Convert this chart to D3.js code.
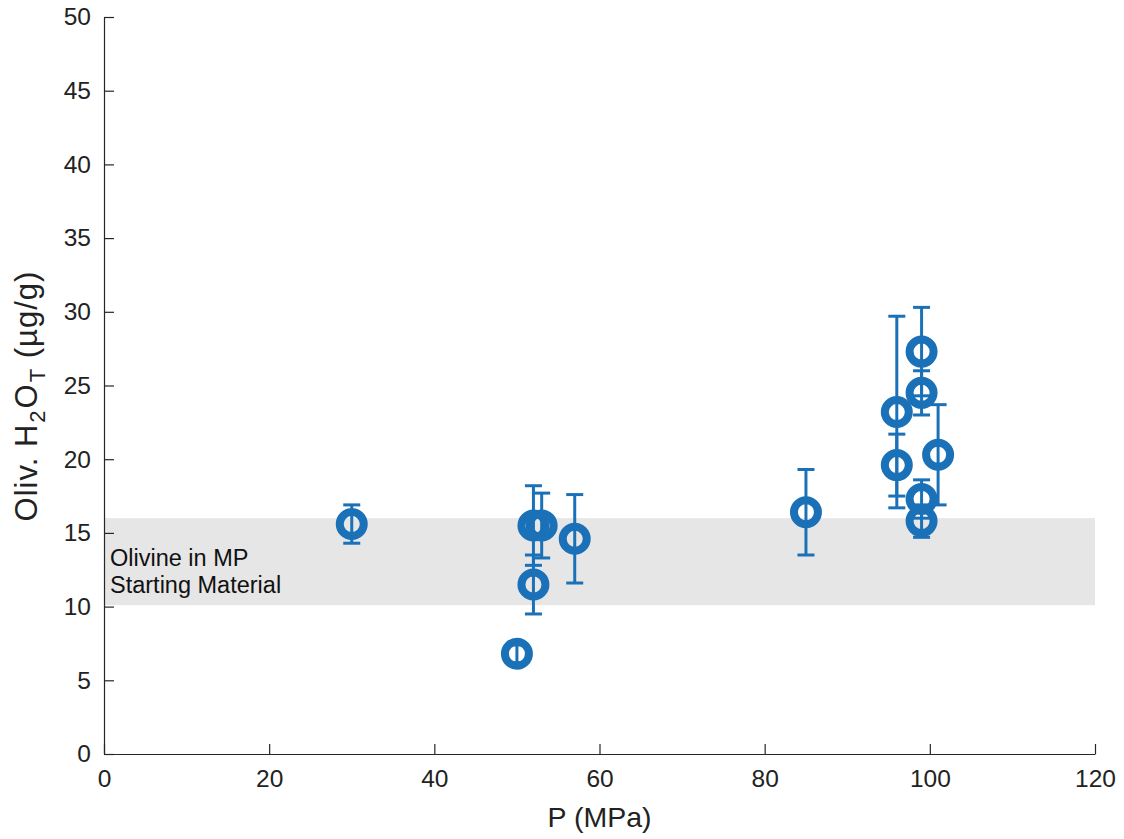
<!DOCTYPE html>
<html>
<head>
<meta charset="utf-8">
<script src="https://cdn.jsdelivr.net/npm/d3@7"></script>
<style>
  html, body { margin: 0; padding: 0; background: #ffffff; }
  svg { display: block; font-family: Arial, "Liberation Sans", Helvetica, sans-serif; }
</style>
</head>
<body>
<svg id="chart" width="1124" height="839"></svg>
<script>
// Pressure (MPa) of each run
const pressure = [30, 50, 52, 52, 53, 57, 85, 96, 96, 99, 99, 99, 99, 101];
// Olivine total water (µg/g)
const waterContent = [15.6, 6.8, 11.5, 15.5, 15.5, 14.6, 16.4, 23.2, 19.6, 27.3, 24.5, 17.3, 15.8, 20.3];
// One-sigma uncertainty on water content
const waterError = [1.3, 0.6, 2.0, 2.7, 2.2, 3.0, 2.9, 6.5, 2.1, 3.0, 1.5, 1.3, 1.1, 3.4];

// Range of the starting material olivine
const startRange = [10.1, 16.0];
const startLabel = ["Olivine in MP", "Starting Material"];

const xTicks = [0, 20, 40, 60, 80, 100, 120];
const yTicks = [0, 5, 10, 15, 20, 25, 30, 35, 40, 45, 50];

const svg = d3.select("#chart");
const margin = { left: 104, right: 1095, top: 17, bottom: 754 };
const blue = "#1a71b8";
const axisColor = "#262626";

const x = d3.scaleLinear().domain([0, 120]).range([margin.left, margin.right]);
const y = d3.scaleLinear().domain([0, 50]).range([margin.bottom, margin.top]);

// Starting material band
svg.append("rect")
  .attr("x", x(0))
  .attr("y", y(startRange[1]))
  .attr("width", x(120) - x(0))
  .attr("height", y(startRange[0]) - y(startRange[1]))
  .attr("fill", "#e6e6e6");

svg.append("text")
  .attr("y", y(startRange[1]) + 48)
  .attr("font-size", 23.5)
  .attr("fill", "#111")
  .selectAll("tspan")
  .data(startLabel)
  .join("tspan")
  .attr("x", x(0) + 6)
  .attr("dy", (d, i) => i === 0 ? 0 : 27)
  .text(d => d);

// Axes: left and bottom only, ticks pointing inward
const xAxis = d3.axisBottom(x).tickValues(xTicks).tickSize(-10).tickPadding(16).tickSizeOuter(0);
const yAxis = d3.axisLeft(y).tickValues(yTicks).tickSize(-10).tickPadding(13).tickSizeOuter(0);

const gx = svg.append("g").attr("transform", `translate(0,${y(0)})`).call(xAxis);
const gy = svg.append("g").attr("transform", `translate(${x(0)},0)`).call(yAxis);

[gx, gy].forEach(g => {
  g.select(".domain").attr("stroke", axisColor).attr("stroke-width", 1.2);
  g.selectAll(".tick line").attr("stroke", axisColor).attr("stroke-width", 1.2);
  g.selectAll(".tick text").attr("fill", "#222").attr("font-size", 24.5)
    .attr("font-family", "Arial, 'Liberation Sans', sans-serif");
});
gx.selectAll(".tick text").attr("dy", "0.71em");

// Axis titles
svg.append("text")
  .attr("x", (x(0) + x(120)) / 2)
  .attr("y", 827)
  .attr("text-anchor", "middle")
  .attr("font-size", 28.5)
  .attr("fill", "#222")
  .text("P (MPa)");

const ylab = svg.append("text")
  .attr("transform", "translate(37,396) rotate(-90)")
  .attr("text-anchor", "middle")
  .attr("font-size", 31)
  .attr("letter-spacing", 1)
  .attr("fill", "#222");
ylab.append("tspan").text("Oliv. H");
ylab.append("tspan").attr("font-size", 22).attr("dy", 8).attr("dx", 1).text("2");
ylab.append("tspan").attr("dy", -8).attr("dx", 1).text("O");
ylab.append("tspan").attr("font-size", 22).attr("dy", 8).attr("dx", 1).text("T");
ylab.append("tspan").attr("dy", -8).text(" (µg/g)");

// Data
const points = pressure.map((p, i) => ({ p, w: waterContent[i], e: waterError[i] }));
const capHalf = 8.5;

const marks = svg.append("g");
const bars = marks.selectAll("g.err").data(points).join("g").attr("class", "err")
  .attr("stroke", blue).attr("stroke-width", 3).attr("fill", "none");
bars.append("line")
  .attr("x1", d => x(d.p)).attr("x2", d => x(d.p))
  .attr("y1", d => y(d.w - d.e)).attr("y2", d => y(d.w + d.e));
bars.append("line")
  .attr("x1", d => x(d.p) - capHalf).attr("x2", d => x(d.p) + capHalf)
  .attr("y1", d => y(d.w + d.e)).attr("y2", d => y(d.w + d.e));
bars.append("line")
  .attr("x1", d => x(d.p) - capHalf).attr("x2", d => x(d.p) + capHalf)
  .attr("y1", d => y(d.w - d.e)).attr("y2", d => y(d.w - d.e));

marks.selectAll("circle").data(points).join("circle")
  .attr("cx", d => x(d.p))
  .attr("cy", d => y(d.w))
  .attr("r", 12)
  .attr("fill", "none")
  .attr("stroke", blue)
  .attr("stroke-width", 8);
</script>
</body>
</html>
